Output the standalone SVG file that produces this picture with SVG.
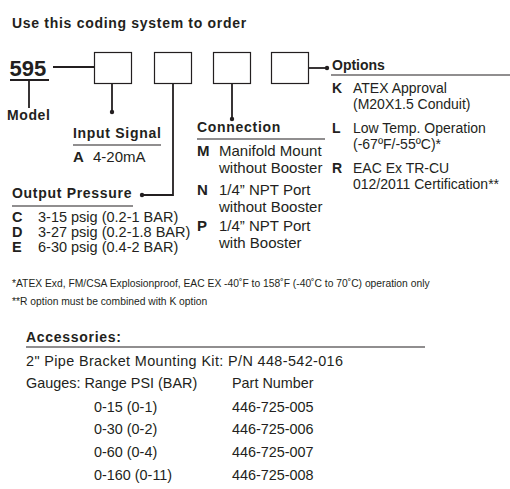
<svg xmlns="http://www.w3.org/2000/svg" width="510" height="489" viewBox="0 0 510 489">
<style>
text{font-family:"Liberation Sans",Arial,sans-serif;fill:#231f20;font-size:14px}
.b{font-weight:bold}
.h{font-weight:bold;font-size:14px;letter-spacing:0.7px}
.s{font-size:10.3px}
.box{fill:#fff;stroke:#231f20;stroke-width:1.2}
.ln{stroke:#231f20;stroke-width:1.8;fill:none}
.ul{stroke:#231f20;stroke-width:1.2}
.dot{fill:#231f20}
#connection text,#input-signal text{font-size:15px}
#output-pressure text{font-size:14.5px}
#accessories text{font-size:14.4px}
#connection .h,#input-signal .h,#output-pressure .h,#accessories .h{font-size:14px}
</style>
<rect width="510" height="489" fill="#fff"/>
<text class="h" x="12" y="28">Use this coding system to order</text>

<g id="model">
<text class="b" x="9.5" y="76" style="font-size:22px">595</text>
<line class="ln" x1="10" y1="80" x2="49" y2="80" style="stroke-width:2"/>
<line class="ln" x1="29" y1="80" x2="29" y2="108"/>
<text class="b" x="7" y="120" style="letter-spacing:0.6px">Model</text>
</g>

<g id="box1"><rect class="box" x="94.5" y="52.5" width="37" height="31"/></g>
<g id="box2"><rect class="box" x="154.5" y="52.5" width="37" height="31"/></g>
<g id="box3"><rect class="box" x="213.5" y="52.5" width="37" height="31"/></g>
<g id="box4"><rect class="box" x="271.5" y="52.5" width="37" height="31"/></g>

<g id="connectors">
<line class="ln" x1="53" y1="67" x2="94" y2="67"/>
<line class="ln" x1="112" y1="84" x2="112" y2="112"/>
<circle class="dot" cx="112" cy="112" r="2.2"/>
<polyline class="ln" points="173,84 173,195 143,195"/>
<circle class="dot" cx="142" cy="195" r="2.2"/>
<line class="ln" x1="232" y1="84" x2="232" y2="119"/>
<circle class="dot" cx="232" cy="119" r="2.2"/>
<line class="ln" x1="309" y1="68" x2="326" y2="68"/>
<circle class="dot" cx="327" cy="68" r="2.2"/>
</g>

<g id="input-signal">
<text class="h" x="73" y="138">Input Signal</text>
<line class="ul" x1="73" y1="145" x2="161" y2="145"/>
<text class="b" x="73" y="162">A</text>
<text x="93" y="162">4-20mA</text>
</g>

<g id="output-pressure">
<text class="h" x="12" y="198">Output Pressure</text>
<line class="ul" x1="12" y1="206" x2="133" y2="206"/>
<text class="b" x="12" y="222">C</text><text x="38" y="222">3-15 psig (0.2-1 BAR)</text>
<text class="b" x="12" y="237">D</text><text x="38" y="237">3-27 psig (0.2-1.8 BAR)</text>
<text class="b" x="12" y="252">E</text><text x="38" y="252">6-30 psig (0.4-2 BAR)</text>
</g>

<g id="connection">
<text class="h" x="197" y="132">Connection</text>
<line class="ul" x1="197" y1="139" x2="325" y2="139"/>
<text class="b" x="197" y="156">M</text><text x="219" y="156">Manifold Mount</text>
<text x="219" y="173">without Booster</text>
<text class="b" x="197" y="195">N</text><text x="219" y="195">1/4” NPT Port</text>
<text x="219" y="212">without Booster</text>
<text class="b" x="197" y="231">P</text><text x="219" y="231">1/4” NPT Port</text>
<text x="219" y="248">with Booster</text>
</g>

<g id="options">
<text class="h" x="332" y="70" style="letter-spacing:0">Options</text>
<line class="ul" x1="331" y1="75" x2="510" y2="75"/>
<text class="b" x="332" y="93">K</text><text x="353" y="93">ATEX Approval</text>
<text x="353" y="109">(M20X1.5 Conduit)</text>
<text class="b" x="332" y="133">L</text><text x="353" y="133">Low Temp. Operation</text>
<text x="353" y="149">(-67ºF/-55ºC)*</text>
<text class="b" x="332" y="173">R</text><text x="353" y="173">EAC Ex TR-CU</text>
<text x="353" y="189">012/2011 Certification**</text>
</g>

<g id="footnotes">
<text class="s" x="12" y="287">*ATEX Exd, FM/CSA Explosionproof, EAC EX -40˚F to 158˚F (-40˚C to 70˚C) operation only</text>
<text class="s" x="12" y="305">**R option must be combined with K option</text>
</g>

<g id="accessories">
<text class="h" x="26" y="342">Accessories:</text>
<line class="ul" x1="26" y1="347" x2="425" y2="347"/>
<text x="26" y="366" textLength="317" lengthAdjust="spacing">2" Pipe Bracket Mounting Kit: P/N 448-542-016</text>
<text x="26" y="388">Gauges: Range PSI (BAR)</text>
<text x="232" y="388">Part Number</text>
<text x="94" y="412">0-15 (0-1)</text><text x="232" y="412">446-725-005</text>
<text x="94" y="434">0-30 (0-2)</text><text x="232" y="434">446-725-006</text>
<text x="94" y="457">0-60 (0-4)</text><text x="232" y="457">446-725-007</text>
<text x="94" y="480">0-160 (0-11)</text><text x="232" y="480">446-725-008</text>
</g>
</svg>
